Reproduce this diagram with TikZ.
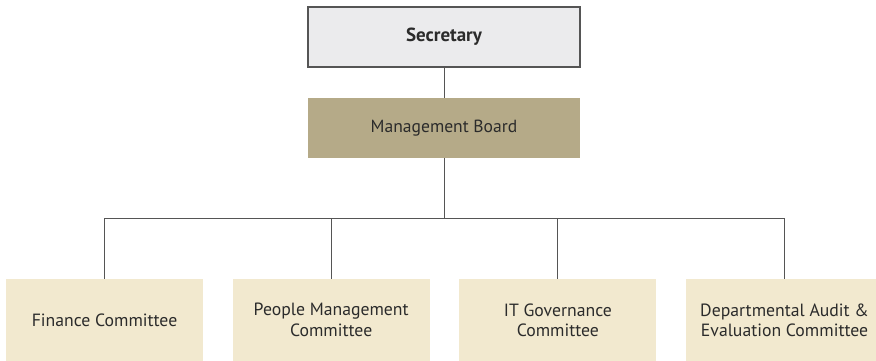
\documentclass[tikz,border=0pt]{standalone}
\usepackage{fontspec}
\setmainfont{PT Sans}
\usetikzlibrary{calc}

\definecolor{secfill}{HTML}{EBEBED}
\definecolor{boardfill}{HTML}{B5AA88}
\definecolor{cttfill}{HTML}{F2E9CF}
\definecolor{linegray}{HTML}{555555}
\definecolor{txtgray}{HTML}{2B2B2B}

\begin{document}
\begin{tikzpicture}[node distance=5.667cm,
  top/.style={draw=linegray, line width=0.8pt, fill=secfill, minimum width=6.8cm, minimum height=1.5cm, font=\bfseries\fontsize{13.5}{15}\selectfont, text=txtgray},
  board/.style={fill=boardfill, minimum width=6.8cm, minimum height=1.5cm, font=\fontsize{12.5}{14}\selectfont, text=txtgray},
  ctt/.style={fill=cttfill, minimum width=4.925cm, minimum height=2.05cm, align=center, font=\fontsize{12.6}{14.5}\selectfont, text=txtgray},
  link/.style={draw=linegray, line width=0.6pt}]

  \useasboundingbox (0,0) rectangle (21.9,-9);

  % Top of the chart
  \node[top] (S) at (11.1,-0.925) {Secretary};
  \node[board] (M) at (11.1,-3.2) {Management Board};

  % Committees
  \node[ctt] (C1) at (2.6125,-8.0) {Finance Committee};
  \node[ctt, right of=C1] (C2) {People Management\\Committee};
  \node[ctt, right of=C2] (C3) {IT Governance\\Committee};
  \node[ctt, right of=C3] (C4) {Departmental Audit \&\\Evaluation Committee};

  % Bus line
  \coordinate (B) at ($(M.south)+(0,-1.5)$);

  % Connectors
  \draw[link] (S.south) -- (M.north);
  \draw[link] (M.south) -- (B);
  \draw[link] (C1.north) |- (B) -| (C4.north);
  \draw[link] (C2.north) -- (C2.north |- B);
  \draw[link] (C3.north) -- (C3.north |- B);

\end{tikzpicture}
\end{document}
